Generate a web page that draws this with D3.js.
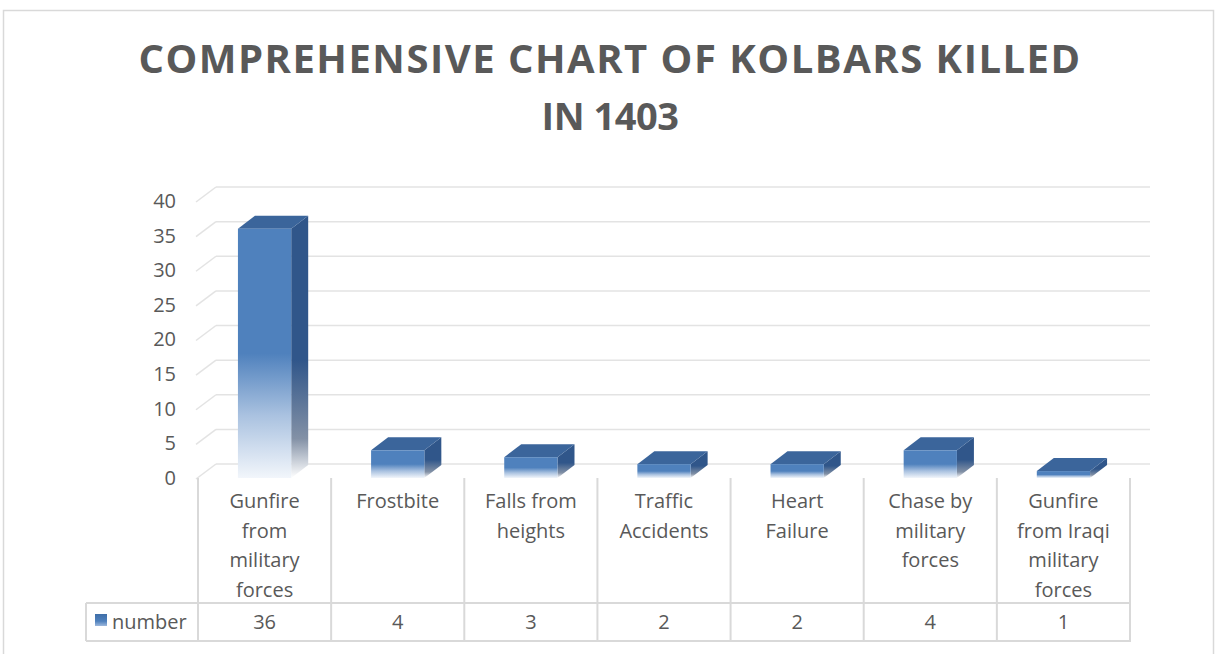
<!DOCTYPE html>
<html>
<head>
<meta charset="utf-8">
<script src="https://cdn.jsdelivr.net/npm/d3@7"></script>
<style>
  body { margin: 0; background: #fff; }
  text { font-family: "Open Sans", sans-serif; fill: #595959; }
</style>
</head>
<body>
<div id="chart"></div>
<script>
var categories = ["Gunfire from military forces", "Frostbite", "Falls from heights",
  "Traffic Accidents", "Heart Failure", "Chase by military forces",
  "Gunfire from Iraqi military forces"];
var labelLines = [["Gunfire", "from", "military", "forces"], ["Frostbite"], ["Falls from", "heights"],
  ["Traffic", "Accidents"], ["Heart", "Failure"], ["Chase by", "military", "forces"],
  ["Gunfire", "from Iraqi", "military", "forces"]];
var values = [36, 4, 3, 2, 2, 4, 1];
var yTicks = [0, 5, 10, 15, 20, 25, 30, 35, 40];
var seriesName = "number";
var titleLines = ["COMPREHENSIVE CHART OF KOLBARS KILLED", "IN 1403"];

var svgWidth = 1217;
var svgHeight = 654;

// depth offset of the 3d walls and bars
var DX = 18, DY = -14;
var BX = 17, BY = -13;

var svg = d3.select("#chart")
  .append("svg")
  .attr("width", svgWidth)
  .attr("height", svgHeight);

var defs = svg.append("defs");

var front = defs.append("linearGradient")
  .attr("id", "frontGrad")
  .attr("x1", 0).attr("y1", 0).attr("x2", 0).attr("y2", 1);
front.append("stop").attr("offset", 0).attr("stop-color", "#4f81bd");
front.append("stop").attr("offset", 0.5).attr("stop-color", "#4f81bd");
front.append("stop").attr("offset", 0.75).attr("stop-color", "#aac2e0");
front.append("stop").attr("offset", 1).attr("stop-color", "#f2f6fb");

var side = defs.append("linearGradient")
  .attr("id", "sideGrad")
  .attr("x1", 0).attr("y1", 0).attr("x2", 0).attr("y2", 1);
side.append("stop").attr("offset", 0).attr("stop-color", "#30568a");
side.append("stop").attr("offset", 0.55).attr("stop-color", "#30568a");
side.append("stop").attr("offset", 0.85).attr("stop-color", "#8391a6");
side.append("stop").attr("offset", 1).attr("stop-color", "#ffffff");

var keyGrad = defs.append("linearGradient")
  .attr("id", "keyGrad")
  .attr("x1", 0).attr("y1", 0).attr("x2", 0).attr("y2", 1);
keyGrad.append("stop").attr("offset", 0).attr("stop-color", "#3f6ea8");
keyGrad.append("stop").attr("offset", 0.6).attr("stop-color", "#4f81bd");
keyGrad.append("stop").attr("offset", 1).attr("stop-color", "#9db8dc");

// chart frame
svg.append("rect")
  .attr("x", 3.5).attr("y", 10.5)
  .attr("width", 1210).attr("height", 680)
  .attr("fill", "#fff")
  .attr("stroke", "#d9d9d9")
  .attr("stroke-width", 1.5);

// title
svg.append("g").selectAll("text")
  .data(titleLines)
  .enter()
  .append("text")
  .attr("x", 610)
  .attr("y", (d, i) => 73 + i * 57)
  .attr("text-anchor", "middle")
  .style("font-size", (d, i) => i === 0 ? "40px" : "38px")
  .style("letter-spacing", (d, i) => i === 0 ? "1.5px" : "-0.5px")
  .style("font-weight", "bold")
  .text(d => d);

var x = d3.scaleBand()
  .domain(categories)
  .range([198, 1130])
  .padding(0);

var y = d3.scaleLinear()
  .domain([0, 40])
  .range([478, 201]);

var x0 = x.range()[0], x1 = x.range()[1];
var barW = x.bandwidth() * 0.4;

// back wall grid lines and left wall slants
var grid = svg.append("g");
grid.selectAll(".back")
  .data(yTicks)
  .enter()
  .append("line")
  .attr("x1", x0 + DX).attr("x2", x1 + DX + 2)
  .attr("y1", d => y(d) + DY).attr("y2", d => y(d) + DY)
  .attr("stroke", "#e3e3e3")
  .attr("stroke-width", 1.5);
grid.selectAll(".wall")
  .data(yTicks)
  .enter()
  .append("line")
  .attr("x1", x0 - 2).attr("x2", x0 + DX)
  .attr("y1", d => y(d) + 1).attr("y2", d => y(d) + DY)
  .attr("stroke", "#e3e3e3")
  .attr("stroke-width", 1.5);

// y axis labels
var leftAxis = d3.axisLeft(y).tickValues(yTicks).tickSize(0).tickPadding(22);
var yAxis = svg.append("g")
  .attr("transform", `translate(${x0}, 0)`)
  .call(leftAxis);
yAxis.select(".domain").remove();
yAxis.selectAll("text")
  .style("font-size", "20px")
  .style("font-family", "'Open Sans', sans-serif")
  .attr("fill", "#595959");

// 3d bars
var bars = svg.append("g").selectAll("g")
  .data(values)
  .enter()
  .append("g");

bars.append("polygon")
  .attr("points", (d, i) => {
    var l = x(categories[i]) + (x.bandwidth() - barW) / 2, r = l + barW, t = y(d), b = y(0);
    return [[r, t], [r + BX, t + BY], [r + BX, b + BY], [r, b]].join(" ");
  })
  .attr("fill", "url(#sideGrad)");

bars.append("polygon")
  .attr("points", (d, i) => {
    var l = x(categories[i]) + (x.bandwidth() - barW) / 2, r = l + barW, t = y(d);
    return [[l, t], [l + BX, t + BY], [r + BX, t + BY], [r, t]].join(" ");
  })
  .attr("fill", "#3b659b");

bars.append("rect")
  .attr("x", (d, i) => x(categories[i]) + (x.bandwidth() - barW) / 2)
  .attr("y", d => y(d))
  .attr("width", barW)
  .attr("height", d => y(0) - y(d))
  .attr("fill", "url(#frontGrad)");

// data table
var table = svg.append("g");
var rowTop = 478, rowMid = 603, rowBot = 641, tableLeft = 86;
var lineColor = "#d9d9d9";

table.selectAll(".vline")
  .data(d3.range(categories.length + 1))
  .enter()
  .append("line")
  .attr("x1", i => x0 + i * x.bandwidth())
  .attr("x2", i => x0 + i * x.bandwidth())
  .attr("y1", rowTop).attr("y2", rowBot)
  .attr("stroke", lineColor).attr("stroke-width", 2);

table.append("line")
  .attr("x1", tableLeft).attr("x2", tableLeft)
  .attr("y1", rowMid).attr("y2", rowBot)
  .attr("stroke", lineColor).attr("stroke-width", 2);

[rowMid, rowBot].forEach(function(yy) {
  table.append("line")
    .attr("x1", tableLeft).attr("x2", x1 + 1)
    .attr("y1", yy).attr("y2", yy)
    .attr("stroke", lineColor).attr("stroke-width", 2);
});

// category labels
var cat = table.selectAll(".cat")
  .data(categories)
  .enter()
  .append("text")
  .attr("text-anchor", "middle")
  .style("font-size", "20px");
cat.selectAll("tspan")
  .data((d, i) => labelLines[i].map(s => ({ s: s, c: d })))
  .enter()
  .append("tspan")
  .attr("x", d => x(d.c) + x.bandwidth() / 2)
  .attr("y", (d, j) => 508 + j * 29.5)
  .text(d => d.s);

// values row
table.selectAll(".val")
  .data(values)
  .enter()
  .append("text")
  .attr("x", (d, i) => x(categories[i]) + x.bandwidth() / 2)
  .attr("y", 629)
  .attr("text-anchor", "middle")
  .style("font-size", "20px")
  .text(d => d);

// legend key
table.append("rect")
  .attr("x", 95).attr("y", 614)
  .attr("width", 12).attr("height", 12)
  .attr("fill", "url(#keyGrad)");
table.append("text")
  .attr("x", 112).attr("y", 629)
  .style("font-size", "20px")
  .text(seriesName);
</script>
</body>
</html>
